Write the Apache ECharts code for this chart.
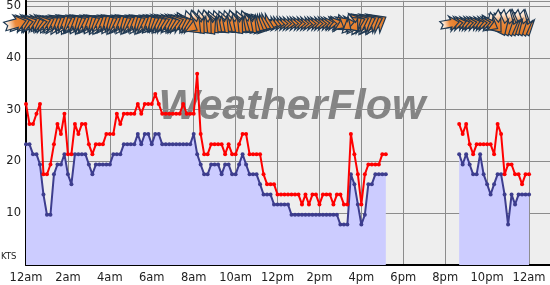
<!DOCTYPE html>
<html><head><meta charset="utf-8">
<script src="https://cdn.jsdelivr.net/npm/echarts@6/dist/echarts.min.js"></script>
<style>html,body{margin:0;padding:0;background:#fff}#c{width:550px;height:285px}</style>
</head><body><div id="c"></div>
<script>
// ---- data (knots, one reading every 10 minutes) ----
const xTickLabels = ['12am','2am','4am','6am','8am','10am','12pm','2pm','4pm','6pm','8pm','10pm','12am'];
const yTickValues = [10, 20, 30, 40, 50];
const stepMinutes = 10;
const earlyStartIndex = 0;     // 12:00am
const lateStartIndex = 124;    // 8:40pm

const avgEarly = [
  23.3,23.3,21.4,21.4,19.4,13.6,9.7,9.7,17.5,19.4,19.4,21.4,17.5,15.6,21.4,21.4,21.4,21.4,19.4,17.5,
  19.4,19.4,19.4,19.4,19.4,21.4,21.4,21.4,23.3,23.3,23.3,23.3,25.3,23.3,25.3,25.3,23.3,25.3,25.3,23.3,
  23.3,23.3,23.3,23.3,23.3,23.3,23.3,23.3,25.3,21.4,19.4,17.5,17.5,19.4,19.4,19.4,17.5,19.4,19.4,17.5,
  17.5,19.4,21.4,19.4,17.5,17.5,17.5,15.6,13.6,13.6,13.6,11.7,11.7,11.7,11.7,11.7,9.7,9.7,9.7,9.7,
  9.7,9.7,9.7,9.7,9.7,9.7,9.7,9.7,9.7,9.7,7.8,7.8,7.8,17.5,15.6,11.7,7.8,9.7,15.6,15.6,
  17.5,17.5,17.5,17.5
];
const gustEarly = [
  31.1,27.2,27.2,29.2,31.1,17.5,17.5,19.4,23.3,27.2,25.3,29.2,21.4,21.4,27.2,25.3,27.2,27.2,23.3,21.4,
  23.3,23.3,23.3,25.3,25.3,25.3,29.2,27.2,29.2,29.2,29.2,29.2,31.1,29.2,31.1,31.1,31.1,33.0,31.1,29.2,
  29.2,29.2,29.2,29.2,29.2,31.1,29.2,29.2,29.2,36.9,25.3,21.4,21.4,23.3,23.3,23.3,23.3,21.4,23.3,21.4,
  21.4,23.3,25.3,25.3,21.4,21.4,21.4,21.4,17.5,15.6,15.6,15.6,13.6,13.6,13.6,13.6,13.6,13.6,13.6,11.7,
  13.6,11.7,13.6,13.6,11.7,13.6,13.6,13.6,11.7,13.6,13.6,11.7,11.7,25.3,21.4,17.5,11.7,17.5,19.4,19.4,
  19.4,19.4,21.4,21.4
];
const avgLate  = [21.4,19.4,21.4,19.4,17.5,17.5,21.4,17.5,15.6,13.6,15.6,17.5,17.5,13.6,7.8,13.6,11.7,13.6,13.6,13.6,13.6];
const gustLate = [27.2,25.3,27.2,23.3,21.4,23.3,23.3,23.3,23.3,23.3,21.4,27.2,25.3,17.5,19.4,19.4,17.5,17.5,15.6,17.5,17.5];

// wind direction (degrees, blowing from)
const dirEarly = [
  255,250,260,250,245,255,260,250,245,240,240,
  240,235,245,240,235,240,245,240,235,240,245,240,235,235,240,245,240,235,240,245,240,235,240,245,240,235,240,245,245,250,250,245,250,255,250,245,250,255,
  300,315,320,315,320,325,315,310,
  310,315,305,310,315,320,310,305,310,315,305,300,295,290,290,
  285,280,275,270,270,275,270,265,270,270,275,270,265,270,270,265,260,270,250,300,
  240,310,260,320,235,
  250,245,240,245,240,245,240
];
const dirLate = [260,265,255,260,265,260,255,260,265,260,255,300,320,335,340,345,340,335,340,345,340];
// drawn arrow length (px)
const arrowLenEarly = [
  22,22,22,22,22,22,22,22,22,22,22,
  24,24,24,24,24,24,24,24,24,24,24,24,24,24,24,24,24,24,24,24,24,24,24,24,24,24,24,24,24,24,24,24,24,24,24,24,24,24,
  26,26,26,26,26,26,26,26,26,26,26,26,26,26,26,26,26,26,26,26,26,26,26,
  17,17,16,16,16,16,16,16,16,16,16,16,16,16,16,16,16,16,17,17,
  19,19,19,19,19,
  26,26,26,26,26,26,26
];
const arrowLenLate = [19,17,17,17,17,17,17,17,17,17,17,20,22,26,26,26,26,26,26,26,26];
const arrowRowKts = 46.6;

// ---- build ----
const toHours = idx => idx * stepMinutes / 60;
const pairs = (start, arr) => arr.map((v, k) => [toHours(start + k), v]);
const arrowItems = (start, dirs, lens) => dirs.map((d, k) => [toHours(start + k), arrowRowKts, d, lens[k]]);

const BLUE = '#3d3d8e', RED = '#ff0000';
function avgSeries(data) {
  return { type:'line', data, z:2, symbol:'circle', symbolSize:4, showSymbol:true,
    lineStyle:{ color:BLUE, width:2 }, itemStyle:{ color:BLUE },
    areaStyle:{ color:'#ccccff', opacity:1 }, emphasis:{disabled:true} };
}
function gustSeries(data) {
  return { type:'line', data, z:3, symbol:'circle', symbolSize:4, showSymbol:true,
    lineStyle:{ color:RED, width:2 }, itemStyle:{ color:RED }, emphasis:{disabled:true} };
}

function renderArrow(params, api) {
  const p = api.coord([api.value(0), api.value(1)]);
  const from = api.value(2), L = api.value(3);
  const b = (from + 180) * Math.PI / 180;
  const ux = Math.sin(b), uy = -Math.cos(b);
  const nx = -uy, ny = ux;
  const W = L * 0.4;
  const hx = p[0], hy = p[1] + L / 2 * uy; // head at the data point's x, arrow centred on the row
  const local = [[0,0],[-0.5*L,-W],[-0.42*L,-0.5*W],[-L,-0.5*W],[-0.86*L,0],[-L,0.5*W],[-0.42*L,0.5*W],[-0.5*L,W]];
  const pts = local.map(q => [hx + q[0]*ux + q[1]*nx, hy + q[0]*uy + q[1]*ny]);
  const tx = hx - L*ux, ty = hy - L*uy;
  return { type:'polygon', shape:{ points: pts },
    style:{ fill: new echarts.graphic.LinearGradient(tx, ty, hx, hy, [
        {offset:0, color:'#ffffff'},{offset:0.22, color:'#fbdcc2'},{offset:0.5, color:'#ec8a3c'},{offset:1, color:'#e07824'}], true),
      stroke:'#1e3852', lineWidth:1.2 } };
}

// earlier readings drawn on top of later ones
const arrowData = arrowItems(earlyStartIndex, dirEarly, arrowLenEarly)
  .concat(arrowItems(lateStartIndex, dirLate, arrowLenLate)).reverse();

const chart = echarts.init(document.getElementById('c'));
chart.setOption({
  animation:false,
  grid:{ left:26, top:0, width:525, height:265, show:false },
  graphic:[
    { type:'rect', z:-10, shape:{ x:26, y:0, width:524, height:265 }, style:{ fill:'#eeeeee' } },
    { type:'text', z:-5, x:292, y:107, style:{ text:'WeatherFlow', font:'italic bold 43px "Liberation Sans", Arial, sans-serif',
        fill:'rgba(120,120,120,0.9)', textAlign:'center', textVerticalAlign:'middle' } },
    { type:'text', z:5, x:1, y:252, style:{ text:'KTS', font:'8.5px "DejaVu Sans", sans-serif', fill:'#222', textVerticalAlign:'top' } }
  ],
  xAxis:{ type:'value', min:0, max:25, interval:2,
    axisLine:{ show:true, onZero:false, lineStyle:{ color:'#000', width:2 } },
    axisTick:{ show:false },
    axisLabel:{ margin:7, color:'#222', fontSize:11.5, fontFamily:'DejaVu Sans', showMaxLabel:false,
      formatter: v => (v % 2 === 0 && xTickLabels[v/2] !== undefined) ? xTickLabels[v/2] : '' },
    splitLine:{ show:true, lineStyle:{ color:'#8c8c8c', width:1 } } },
  yAxis:{ type:'value', min:0, max:51, interval:10,
    axisLine:{ show:true, lineStyle:{ color:'#000', width:2 } },
    axisTick:{ show:false },
    axisLabel:{ margin:5, color:'#222', fontSize:11.5, fontFamily:'DejaVu Sans', showMinLabel:false, showMaxLabel:false,
      formatter: v => yTickValues.includes(v) ? String(v) : '' },
    splitLine:{ show:true, lineStyle:{ color:'#8c8c8c', width:1 } } },
  series:[
    avgSeries(pairs(earlyStartIndex, avgEarly)),
    avgSeries(pairs(lateStartIndex, avgLate)),
    gustSeries(pairs(earlyStartIndex, gustEarly)),
    gustSeries(pairs(lateStartIndex, gustLate)),
    { type:'custom', z:5, clip:false, renderItem: renderArrow,
      encode:{ x:0, y:1 }, data: arrowData }
  ]
});
</script></body></html>
